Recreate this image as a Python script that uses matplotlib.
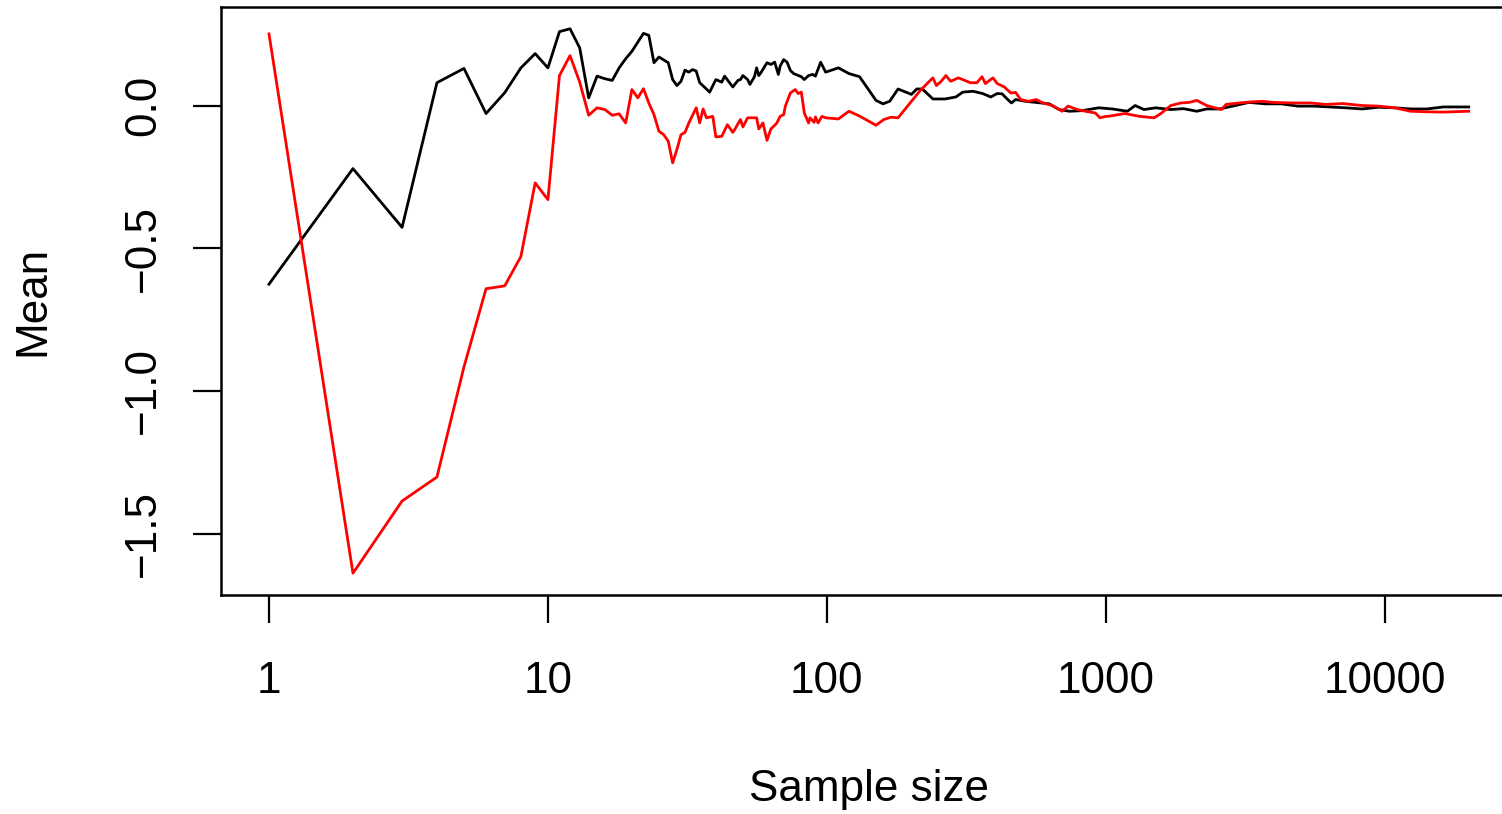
import numpy as np
import matplotlib
matplotlib.use("Agg")
import matplotlib.pyplot as plt

plt.rcParams['font.family'] = ['Liberation Sans', 'DejaVu Sans']

# running mean of two samples, read at selected sample sizes
black_n = [1, 2, 3, 4, 5, 6, 7, 8, 9, 10, 11, 12, 13, 14, 15, 16, 17, 18, 19, 20,
           21, 22, 23, 24, 25, 27, 28, 29, 30, 31, 32, 33, 34, 35, 37, 38, 40, 42, 43, 46,
           48, 49, 50, 52, 53, 55, 56, 57, 58, 61, 63, 65, 67, 68, 70, 72, 74, 76, 81, 83,
           86, 89, 91, 95, 99, 110, 120, 131, 150, 159, 168, 180, 201, 210, 220, 240, 265, 290, 307, 334,
           362, 387, 408, 425, 443, 459, 475, 514, 560, 627, 680, 740, 821, 942, 1055, 1195, 1274, 1370, 1510, 1710,
           1900, 2120, 2300, 2560, 2850, 3260, 3730, 4260, 4870, 5560, 6360, 7260, 8300, 9490, 10850, 12400, 14170, 16200, 20000]
black_mean = [-0.626, -0.221, -0.427, 0.080, 0.130, -0.028, 0.045, 0.132, 0.182, 0.132, 0.259, 0.269, 0.202, 0.027, 0.103, 0.094, 0.088, 0.132, 0.164, 0.190,
              0.222, 0.253, 0.246, 0.150, 0.170, 0.150, 0.091, 0.070, 0.085, 0.124, 0.117, 0.126, 0.121, 0.080, 0.058, 0.047, 0.091, 0.082, 0.103, 0.065,
              0.088, 0.091, 0.105, 0.091, 0.074, 0.101, 0.132, 0.105, 0.115, 0.150, 0.144, 0.152, 0.109, 0.138, 0.161, 0.152, 0.123, 0.112, 0.101, 0.091,
              0.105, 0.109, 0.103, 0.152, 0.117, 0.132, 0.112, 0.101, 0.018, 0.006, 0.015, 0.058, 0.039, 0.058, 0.058, 0.023, 0.023, 0.030, 0.047, 0.050,
              0.042, 0.030, 0.042, 0.041, 0.023, 0.009, 0.021, 0.015, 0.011, 0.006, -0.014, -0.020, -0.018, -0.008, -0.012, -0.020, 0.000, -0.014, -0.008, -0.014,
              -0.011, -0.020, -0.012, -0.012, -0.002, 0.011, 0.006, 0.006, -0.002, -0.002, -0.005, -0.008, -0.012, -0.006, -0.008, -0.012, -0.012, -0.005, -0.005]

red_n = [1, 2, 3, 4, 5, 6, 7, 8, 9, 10, 11, 12, 13, 14, 15, 16, 17, 18, 19, 20,
         21, 22, 23, 24, 25, 26, 27, 28, 29, 30, 31, 32, 34, 35, 36, 37, 39, 40, 42, 44,
         46, 47, 49, 50, 52, 56, 57, 59, 61, 63, 66, 68, 70, 71, 74, 77, 79, 81, 83, 86,
         87, 90, 91, 93, 96, 99, 110, 120, 131, 150, 160, 170, 180, 197, 215, 233, 240, 247, 257, 267,
         278, 296, 310, 327, 345, 360, 370, 394, 408, 433, 456, 475, 495, 528, 563, 595, 643, 697, 733, 790,
         845, 917, 953, 1000, 1020, 1170, 1320, 1490, 1570, 1710, 1860, 1990, 2120, 2300, 2460, 2600, 2700, 3000, 3350, 3630,
         3970, 4650, 5430, 6140, 7060, 8300, 9490, 10850, 12400, 14170, 16200, 20000]
red_mean = [0.251, -1.639, -1.386, -1.302, -0.916, -0.642, -0.632, -0.529, -0.271, -0.330, 0.105, 0.175, 0.082, -0.034, -0.008, -0.014, -0.034, -0.029, -0.061, 0.056,
            0.027, 0.059, 0.009, -0.032, -0.090, -0.102, -0.125, -0.201, -0.154, -0.102, -0.094, -0.061, -0.008, -0.061, -0.012, -0.043, -0.038, -0.110, -0.108, -0.067,
            -0.094, -0.080, -0.049, -0.075, -0.043, -0.043, -0.082, -0.061, -0.122, -0.082, -0.063, -0.038, -0.032, -0.002, 0.044, 0.056, 0.042, 0.047, -0.026, -0.061,
            -0.043, -0.059, -0.040, -0.061, -0.038, -0.043, -0.047, -0.020, -0.037, -0.069, -0.049, -0.041, -0.043, 0.004, 0.050, 0.085, 0.097, 0.070, 0.085, 0.105,
            0.085, 0.097, 0.089, 0.080, 0.080, 0.101, 0.077, 0.097, 0.077, 0.065, 0.044, 0.046, 0.021, 0.015, 0.021, 0.009, 0.000, -0.020, -0.002, -0.014,
            -0.020, -0.026, -0.043, -0.038, -0.038, -0.028, -0.038, -0.043, -0.029, 0.000, 0.009, 0.011, 0.018, 0.000, -0.008, -0.014, 0.004, 0.009, 0.013, 0.015,
            0.011, 0.009, 0.009, 0.004, 0.007, 0.000, -0.002, -0.008, -0.020, -0.022, -0.023, -0.020]

x_ticks = [1, 10, 100, 1000, 10000]
x_labels = ["1", "10", "100", "1000", "10000"]
y_ticks = [0.0, -0.5, -1.0, -1.5]
y_labels = ["0.0", "\u22120.5", "\u22121.0", "\u22121.5"]

fig = plt.figure(figsize=(15.02, 8.14), dpi=100)
# plot region runs a little past the right edge of the canvas
ax = fig.add_axes([221 / 1502, 219 / 814, 1295.7 / 1502, 588 / 814])

ax.plot(black_n, black_mean, color="black", lw=2.0)
ax.plot(red_n, red_mean, color="red", lw=2.0)

ax.set_xscale("log")
# R style axis ranges: data range widened by 4% on each side
lo, hi = np.log10(min(black_n + red_n)), np.log10(max(black_n + red_n))
pad = 0.04 * (hi - lo)
ax.set_xlim(10 ** (lo - pad), 10 ** (hi + pad))
ymin, ymax = min(black_mean + red_mean), max(black_mean + red_mean)
pad = 0.04 * (ymax - ymin)
ax.set_ylim(ymin - pad, ymax + pad)

ax.set_xticks(x_ticks)
ax.set_xticklabels(x_labels)
ax.xaxis.set_minor_locator(matplotlib.ticker.NullLocator())
ax.set_yticks(y_ticks)
ax.set_yticklabels(y_labels, rotation=90, va="center")

ax.tick_params(axis="both", length=20, width=1.6, labelsize=31.7, direction="out")
ax.tick_params(axis="x", pad=27.5)
ax.tick_params(axis="y", pad=21)
for sp in ax.spines.values():
    sp.set_linewidth(1.8)

ax.set_xlabel("Sample size", fontsize=31.7, labelpad=48)
ax.set_ylabel("Mean", fontsize=31.7, labelpad=50)

fig.savefig("out.png", dpi=100)
